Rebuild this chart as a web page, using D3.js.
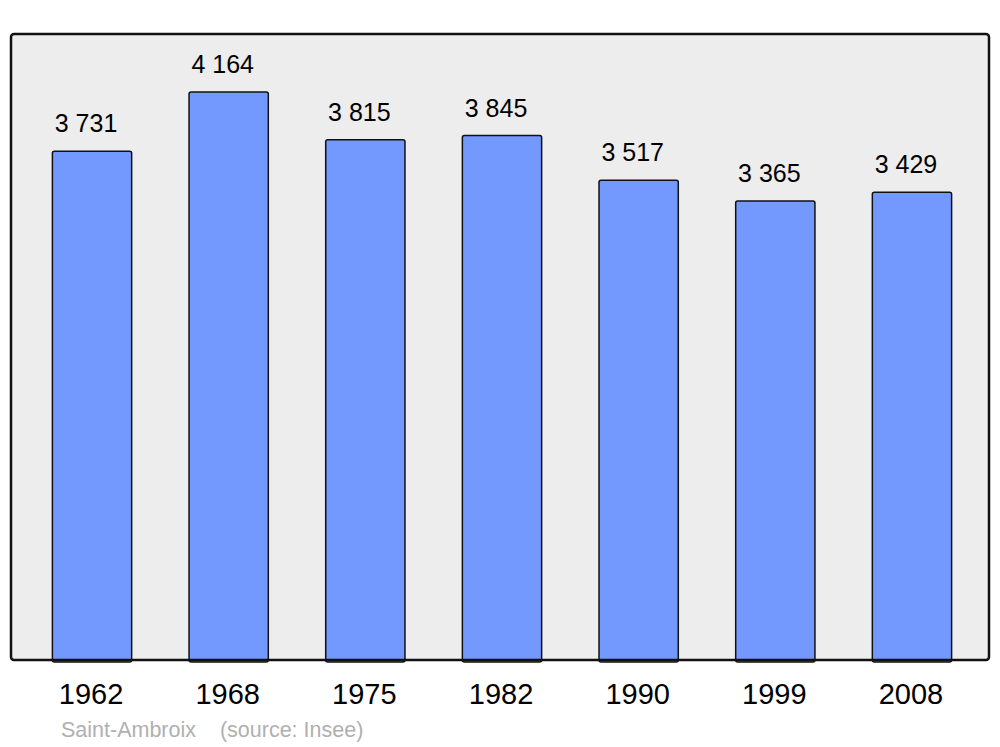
<!DOCTYPE html>
<html>
<head>
<meta charset="utf-8">
<script src="https://cdn.jsdelivr.net/npm/d3@7"></script>
<style>
  body { margin: 0; background: #fff; }
  text { font-family: "Liberation Sans", Arial, sans-serif; }
</style>
</head>
<body>
<svg id="chart" width="1000" height="747"></svg>
<script>
const years = ["1962", "1968", "1975", "1982", "1990", "1999", "2008"]
const population = [3731, 4164, 3815, 3845, 3517, 3365, 3429]
const commune = "Saint-Ambroix"
const source = "(source: Insee)"

const svg = d3.select("#chart")

// plot frame
const frame = { left: 11, right: 989, top: 34, bottom: 660 }

svg.append("rect")
  .attr("x", frame.left)
  .attr("y", frame.top)
  .attr("width", frame.right - frame.left)
  .attr("height", frame.bottom - frame.top)
  .attr("rx", 3)
  .attr("fill", "#ededed")

const x = d3.scaleBand()
  .domain(years)
  .range([23.7, 980.3])
  .paddingInner(0.42)
  .paddingOuter(0.21)

const y = d3.scaleLinear()
  .domain([0, 4590])
  .range([frame.bottom, frame.top])

const data = years.map((year, i) => ({ year, value: population[i] }))

// bars
svg.selectAll("rect.bar")
  .data(data)
  .enter().append("rect")
    .attr("class", "bar")
    .attr("x", d => x(d.year))
    .attr("y", d => y(d.value))
    .attr("width", x.bandwidth())
    .attr("height", d => frame.bottom - y(d.value) + 2)
    .attr("rx", 2)
    .attr("fill", "#7399ff")
    .attr("stroke", "#111")
    .attr("stroke-width", 1.5)

// frame outline on top of the bars
svg.append("rect")
  .attr("x", frame.left)
  .attr("y", frame.top)
  .attr("width", frame.right - frame.left)
  .attr("height", frame.bottom - frame.top)
  .attr("rx", 3)
  .attr("fill", "none")
  .attr("stroke", "#111")
  .attr("stroke-width", 2.5)

// value labels
const fmt = v => d3.format(",")(v).replace(",", " ")
svg.selectAll("text.value")
  .data(data)
  .enter().append("text")
    .attr("class", "value")
    .attr("x", d => x(d.year) + x.bandwidth() / 2 - 6)
    .attr("y", d => y(d.value) - 19)
    .attr("text-anchor", "middle")
    .attr("font-size", 25)
    .attr("fill", "#000")
    .text(d => fmt(d.value))

// x axis labels
const xAxis = svg.append("g")
  .attr("transform", `translate(0,${frame.bottom})`)
  .call(d3.axisBottom(x).tickSize(0).tickPadding(0))
xAxis.select(".domain").remove()
xAxis.selectAll("text")
  .attr("dy", null)
  .attr("y", 44)
  .attr("x", -1)
  .attr("font-size", 29)
  .attr("font-family", "Liberation Sans, Arial, sans-serif")
  .attr("fill", "#000")

// footer
svg.append("text")
  .attr("x", 61)
  .attr("y", 737)
  .attr("font-size", 21.5)
  .attr("fill", "#b0b0b0")
  .attr("xml:space", "preserve")
  .text(commune + "    " + source)
</script>
</body>
</html>
